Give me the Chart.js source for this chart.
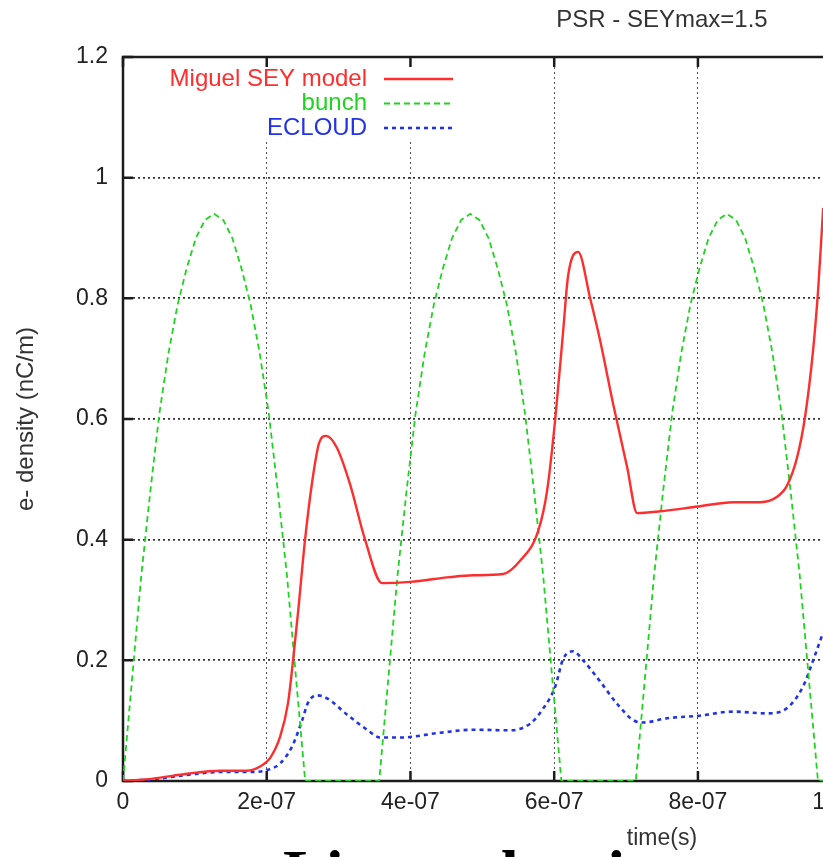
<!DOCTYPE html>
<html><head><meta charset="utf-8">
<script src="https://cdn.jsdelivr.net/npm/chart.js@4.4.1/dist/chart.umd.min.js"></script>
<style>
html,body{margin:0;padding:0;background:#fff;overflow:hidden;width:823px;height:857px;}
#wrap{position:absolute;left:0;top:0;width:823px;height:857px;overflow:hidden;background:#fff;}
#c{position:absolute;left:0;top:0;}
#caption{position:absolute;left:283px;top:841px;font-family:'Liberation Serif',serif;font-weight:bold;font-size:64px;white-space:nowrap;color:#000;line-height:1;}
</style></head><body>
<div id="wrap"><canvas id="c" width="1324" height="857"></canvas><div id="caption">Linear density</div></div>
<script>
// ---- data (time in units of 1e-7 s, values in nC/m) ----
const T_UNIT = 1e-7;
const seriesNames = ['Miguel SEY model', 'bunch', 'ECLOUD'];
const seyT = [0, 0.418, 0.891, 1.350, 1.726, 1.907, 2.046, 2.185, 2.296, 2.366, 2.436, 2.533, 2.630, 2.728, 2.825, 2.978, 3.159, 3.368, 3.605, 3.994, 4.551, 4.871, 5.289, 5.525, 5.776, 5.901, 6.013, 6.124, 6.193, 6.333, 6.500, 6.639, 6.820, 7.015, 7.154, 7.474, 8.003, 8.490, 8.866, 9.102, 9.241, 9.381, 9.492, 9.603, 9.673, 9.743];
const seyV = [0, 0.004, 0.012, 0.017, 0.017, 0.024, 0.038, 0.073, 0.129, 0.200, 0.280, 0.400, 0.494, 0.560, 0.572, 0.552, 0.492, 0.400, 0.328, 0.330, 0.338, 0.341, 0.343, 0.365, 0.414, 0.481, 0.598, 0.745, 0.837, 0.877, 0.800, 0.730, 0.625, 0.520, 0.444, 0.447, 0.455, 0.462, 0.462, 0.471, 0.490, 0.537, 0.605, 0.715, 0.815, 0.950];
const bunchT = [0, 0.127, 0.254, 0.380, 0.507, 0.634, 0.761, 0.887, 1.014, 1.141, 1.268, 1.394, 1.521, 1.648, 1.775, 1.901, 2.028, 2.155, 2.282, 2.408, 2.535,
  3.565, 3.692, 3.819, 3.945, 4.072, 4.199, 4.326, 4.452, 4.579, 4.706, 4.833, 4.959, 5.086, 5.213, 5.340, 5.466, 5.593, 5.720, 5.847, 5.973, 6.100,
  7.135, 7.262, 7.389, 7.515, 7.642, 7.769, 7.896, 8.022, 8.149, 8.276, 8.403, 8.529, 8.656, 8.783, 8.910, 9.036, 9.163, 9.290, 9.417, 9.543, 9.670, 9.750];
const bunchV = [0, 0.17, 0.34, 0.48, 0.61, 0.71, 0.79, 0.85, 0.90, 0.93, 0.94, 0.93, 0.90, 0.85, 0.79, 0.71, 0.61, 0.48, 0.34, 0.17, 0,
  0, 0.17, 0.34, 0.48, 0.61, 0.71, 0.79, 0.85, 0.90, 0.93, 0.94, 0.93, 0.90, 0.85, 0.79, 0.71, 0.61, 0.48, 0.34, 0.17, 0,
  0, 0.17, 0.34, 0.48, 0.61, 0.71, 0.79, 0.85, 0.90, 0.93, 0.94, 0.93, 0.90, 0.85, 0.79, 0.71, 0.61, 0.48, 0.34, 0.17, 0, 0];
const ecloudT = [0, 0.418, 0.891, 1.350, 1.809, 2.004, 2.185, 2.352, 2.491, 2.575, 2.700, 2.839, 3.118, 3.396, 3.577, 3.855, 4.412, 4.871, 5.386, 5.665, 5.846, 6.013, 6.124, 6.263, 6.402, 6.639, 6.875, 7.098, 7.237, 7.571, 8.003, 8.490, 8.963, 9.241, 9.464, 9.603, 9.729];
const ecloudV = [0, 0.003, 0.010, 0.015, 0.015, 0.018, 0.029, 0.057, 0.100, 0.130, 0.142, 0.137, 0.110, 0.085, 0.072, 0.072, 0.080, 0.085, 0.084, 0.095, 0.120, 0.156, 0.202, 0.215, 0.200, 0.165, 0.128, 0.101, 0.097, 0.104, 0.108, 0.115, 0.112, 0.121, 0.157, 0.200, 0.242];
const xTicks = [0, 2e-7, 4e-7, 6e-7, 8e-7, 1e-6, 1.2e-6, 1.4e-6];
const xTickLabels = ['0', '2e-07', '4e-07', '6e-07', '8e-07', '1e-06', '1.2e-06', '1.4e-06'];
const yTicks = [0, 0.2, 0.4, 0.6, 0.8, 1.0, 1.2];
const yTickLabels = ['0', '0.2', '0.4', '0.6', '0.8', '1', '1.2'];

const colors = ['#ff2e2e', '#1fd41f', '#2233e6'];
const FONT = "'Liberation Sans', Arial, sans-serif";
const pts = (T, V) => T.map((t, i) => ({x: t * T_UNIT, y: V[i]}));

const legendEntries = [
  {text: seriesNames[0], color: colors[0], width: 2.4, dash: []},
  {text: seriesNames[1], color: colors[1], width: 1.8, dash: [6, 4]},
  {text: seriesNames[2], color: colors[2], width: 2.6, dash: [4, 4]}
];

const framePlugin = {
  id: 'frameAndKey',
  beforeDatasetsDraw(chart) {
    const {ctx, chartArea: a, scales} = chart;
    ctx.save();
    ctx.fillStyle = '#fff';
    ctx.fillRect(a.left + 40, a.top + 2, 300, 82);
    ctx.font = '24px ' + FONT;
    ctx.textAlign = 'right';
    ctx.textBaseline = 'middle';
    legendEntries.forEach((e, i) => {
      const y = a.top + 22 + i * 24.5;
      ctx.fillStyle = e.color;
      ctx.fillText(e.text, a.left + 244, y);
      ctx.beginPath();
      ctx.strokeStyle = e.color;
      ctx.lineWidth = e.width;
      ctx.setLineDash(e.dash);
      ctx.moveTo(a.left + 261, y);
      ctx.lineTo(a.left + 330, y);
      ctx.stroke();
    });
    ctx.setLineDash([]);
    ctx.strokeStyle = '#1c1c1c';
    ctx.lineWidth = 2.5;
    ctx.strokeRect(a.left, a.top, a.right - a.left, a.bottom - a.top);
    ctx.beginPath();
    xTicks.forEach(v => {
      const x = scales.x.getPixelForValue(v);
      ctx.moveTo(x, a.bottom); ctx.lineTo(x, a.bottom - 10);
      ctx.moveTo(x, a.top); ctx.lineTo(x, a.top + 10);
    });
    yTicks.forEach(v => {
      const y = scales.y.getPixelForValue(v);
      ctx.moveTo(a.left, y); ctx.lineTo(a.left + 10, y);
      ctx.moveTo(a.right, y); ctx.lineTo(a.right - 10, y);
    });
    ctx.stroke();
    ctx.restore();
  }
};

new Chart(document.getElementById('c'), {
  type: 'line',
  data: {
    datasets: [
      {label: seriesNames[0], data: pts(seyT, seyV), borderColor: colors[0], borderWidth: 2.4, pointRadius: 0, cubicInterpolationMode: 'monotone', fill: false},
      {label: seriesNames[1], data: pts(bunchT, bunchV), borderColor: colors[1], borderWidth: 1.8, borderDash: [6, 4], pointRadius: 0, tension: 0, fill: false},
      {label: seriesNames[2], data: pts(ecloudT, ecloudV), borderColor: colors[2], borderWidth: 2.6, borderDash: [4, 4], pointRadius: 0, cubicInterpolationMode: 'monotone', fill: false}
    ]
  },
  options: {
    responsive: false,
    animation: false,
    devicePixelRatio: 1,
    layout: {padding: {left: 0, right: 0, top: 0, bottom: 0}},
    plugins: {
      legend: {display: false},
      tooltip: {enabled: false},
      title: {display: true, text: 'PSR - SEYmax=1.5', color: '#333', font: {family: FONT, size: 24, weight: 'normal'}, padding: {top: 6, bottom: 22.2}}
    },
    scales: {
      x: {
        type: 'linear', min: 0, max: 1.5e-6,
        afterFit: s => { s.height = 76; },
        afterBuildTicks: s => { s.ticks = xTicks.map(v => ({value: v})); },
        ticks: {callback: (v, i) => xTickLabels[i], color: '#222', padding: 8, maxRotation: 0, autoSkip: false, font: {family: FONT, size: 23}},
        grid: {color: '#555', lineWidth: 1, drawTicks: false},
        border: {display: false, dash: [2, 3]},
        title: {display: true, text: 'time(s)', color: '#333', font: {family: FONT, size: 23}, padding: {top: 0, bottom: 5}}
      },
      y: {
        type: 'linear', min: 0, max: 1.2,
        afterFit: s => { s.width = 123; },
        afterBuildTicks: s => { s.ticks = yTicks.map(v => ({value: v})); },
        ticks: {callback: (v, i) => yTickLabels[i], color: '#222', padding: 15, font: {family: FONT, size: 23}},
        grid: {color: '#333', lineWidth: 1.7, drawTicks: false},
        border: {display: false, dash: [2, 3]},
        title: {display: true, text: 'e- density (nC/m)', color: '#333', font: {family: FONT, size: 24}, padding: {top: 12, bottom: 0}}
      },
      yRight: {
        type: 'linear', position: 'right', min: 0, max: 1.2,
        afterFit: s => { s.width = 123; },
        ticks: {display: false},
        grid: {display: false, drawOnChartArea: false},
        border: {display: false}
      }
    }
  },
  plugins: [framePlugin]
});
</script>
</body></html>
